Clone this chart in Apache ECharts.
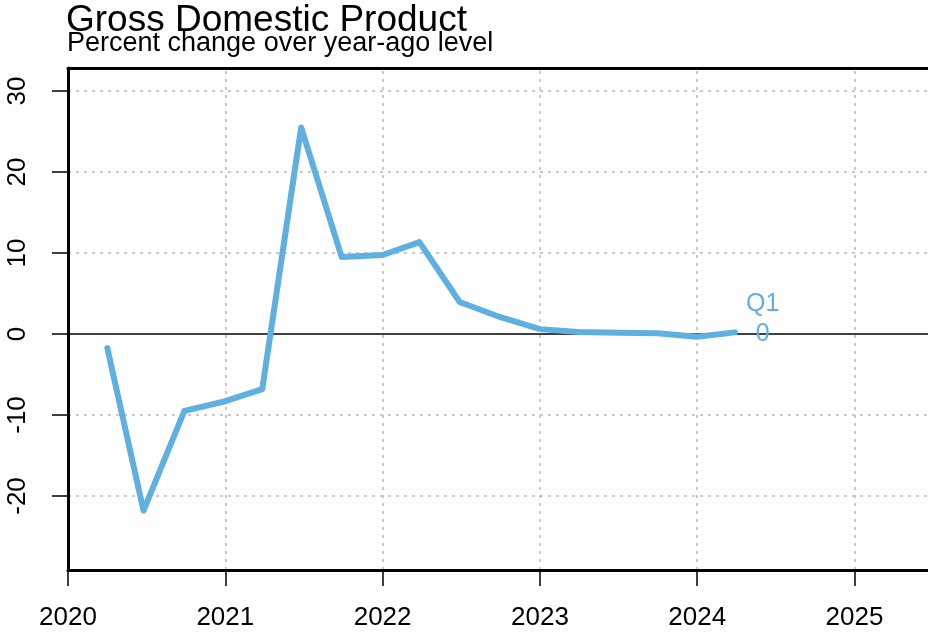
<!DOCTYPE html>
<html>
<head>
<meta charset="utf-8">
<script src="https://cdn.jsdelivr.net/npm/echarts@6/dist/echarts.min.js"></script>
<style>html,body{margin:0;padding:0;background:#fff;}#c{width:928px;height:635px;}</style>
</head>
<body>
<div id="c"></div>
<script>
var titleText = 'Gross Domestic Product';
var subtitleText = 'Percent change over year-ago level';
var quarterDates = [2020.25, 2020.48, 2020.74, 2021.0, 2021.235, 2021.482, 2021.74, 2022.0, 2022.234, 2022.49, 2022.745, 2023.0, 2023.245, 2023.5, 2023.745, 2024.0, 2024.24];
var gdpChange = [-1.75, -21.8, -9.5, -8.3, -6.8, 25.5, 9.5, 9.75, 11.35, 3.95, 2.1, 0.6, 0.25, 0.15, 0.1, -0.35, 0.2];
var xTicks = [2020, 2021, 2022, 2023, 2024, 2025];
var yTicks = [-20, -10, 0, 10, 20, 30];
var endLabelLines = ['Q1', '0'];

var FONT = "'Liberation Sans', Arial, sans-serif";
var BLUE = '#60AFE1';

var seriesData = quarterDates.map(function (d, i) { return [d, gdpChange[i]]; });

var gridMarks = [];
xTicks.forEach(function (v) { if (v !== 2020) gridMarks.push({ xAxis: v }); });
yTicks.forEach(function (v) { if (v !== 0) gridMarks.push({ yAxis: v }); });

var chart = echarts.init(document.getElementById('c'), null, { renderer: 'canvas' });
chart.setOption({
  animation: false,
  backgroundColor: '#ffffff',
  textStyle: { fontFamily: FONT },
  title: [
    { text: titleText, left: 66, top: 2, padding: 0, textStyle: { fontFamily: FONT, fontSize: 37, fontWeight: 'normal', color: '#000' } },
    { text: subtitleText, left: 67, top: 30, padding: 0, textStyle: { fontFamily: FONT, fontSize: 27, fontWeight: 'normal', color: '#000' } }
  ],
  grid: { left: 68, top: 68, right: 0, bottom: 65, containLabel: false },
  xAxis: [
    {
      type: 'value', min: 2020, max: 2025.467, position: 'bottom', z: 10,
      axisLine: { show: true, onZero: false, lineStyle: { color: '#000', width: 3 } },
      axisTick: { show: true, length: 16, customValues: xTicks, lineStyle: { color: '#000', width: 1.5 } },
      axisLabel: { show: true, customValues: xTicks, margin: 35, fontSize: 26, color: '#000', fontFamily: FONT,
        formatter: function (v) { return String(Math.round(v)); } },
      splitLine: { show: false }
    },
    {
      type: 'value', min: 2020, max: 2025.467, position: 'top', z: 10,
      axisLine: { show: true, onZero: false, lineStyle: { color: '#000', width: 3 } },
      axisTick: { show: false }, axisLabel: { show: false }, splitLine: { show: false }
    }
  ],
  yAxis: {
    type: 'value', min: -29.14, max: 32.84, z: 10,
    axisLine: { show: true, onZero: false, lineStyle: { color: '#000', width: 3 } },
    axisTick: { show: true, length: 16, customValues: yTicks, lineStyle: { color: '#000', width: 1.5 } },
    axisLabel: { show: true, customValues: yTicks, rotate: 90, margin: 37, fontSize: 26, color: '#000', fontFamily: FONT,
      formatter: function (v) { return String(Math.round(v)); } },
    splitLine: { show: false }
  },
  series: [
    {
      type: 'line', xAxisIndex: 0, yAxisIndex: 0, data: [], silent: true,
      markLine: {
        silent: true, symbol: 'none', label: { show: false },
        lineStyle: { color: '#b8b8b8', width: 1.5, type: [3, 5] },
        data: gridMarks
      }
    },
    {
      type: 'line', xAxisIndex: 0, yAxisIndex: 0, data: [], silent: true, z: 3,
      markLine: {
        silent: true, symbol: 'none', label: { show: false },
        lineStyle: { color: '#000', width: 1.5, type: 'solid' },
        data: [{ yAxis: 0 }]
      }
    },
    {
      type: 'line', xAxisIndex: 0, yAxisIndex: 0, z: 5,
      data: seriesData, showSymbol: false, symbol: 'none',
      lineStyle: { color: BLUE, width: 6, cap: 'round', join: 'round' },
      endLabel: {
        show: true, distance: 11, offset: [0, -13],
        formatter: '{a|' + endLabelLines[0] + '}\n{b|' + endLabelLines[1] + '}',
        rich: {
          a: { fontSize: 25, lineHeight: 30, color: BLUE, fontFamily: FONT, align: 'center' },
          b: { fontSize: 25, lineHeight: 30, color: BLUE, fontFamily: FONT, align: 'center' }
        }
      }
    }
  ]
});
</script>
</body>
</html>
